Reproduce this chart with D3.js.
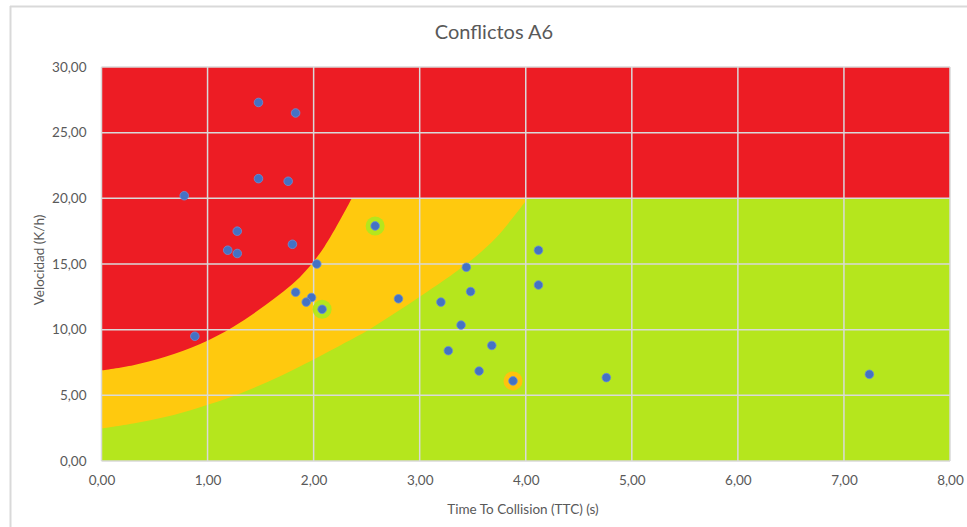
<!DOCTYPE html>
<html>
<head>
<meta charset="utf-8">
<script src="https://cdn.jsdelivr.net/npm/d3@7"></script>
<style>
  body { margin: 0; background: #fff; }
  text { font-family: Lato, "Open Sans", sans-serif; }
</style>
</head>
<body>
<div id="chart"></div>
<script>
// Conflictos A6 - TTC vs speed scatter with severity zones

// points (TTC in s, speed in K/h)
var ttc   = [1.48, 1.83, 1.48, 1.76, 0.78, 1.28, 1.19, 1.28, 1.80, 2.58, 2.03, 1.83, 1.98, 1.93, 2.08, 2.80, 0.88,
             4.12, 4.12, 3.44, 3.48, 3.20, 3.39, 3.68, 3.27, 3.56, 3.88, 4.76, 7.24];
var speed = [27.3, 26.5, 21.5, 21.3, 20.2, 17.5, 16.05, 15.8, 16.5, 17.9, 15.0, 12.85, 12.45, 12.1, 11.55, 12.35, 9.5,
             16.05, 13.4, 14.75, 12.9, 12.1, 10.35, 8.8, 8.4, 6.85, 6.1, 6.35, 6.6];

// highlighted points (index + halo colour)
var highlighted = [9, 14, 26];
var haloColors  = ["#b5e61d", "#b5e61d", "#ffc20e"];

// zone boundaries [ttc, speed], each ends where it meets 20 K/h
var upperCurve = [[0, 6.9], [0.3, 7.3], [0.61, 7.95], [0.93, 8.9], [1.24, 10.2], [1.55, 11.9],
                  [1.87, 14.0], [2.1, 16.3], [2.36, 20]];
var lowerCurve = [[0, 2.47], [0.3, 2.85], [0.6, 3.35], [0.93, 4.1], [1.24, 4.93], [1.56, 6.0],
                  [1.87, 7.2], [2.25, 8.8], [2.5, 9.9], [3.0, 12.5], [3.44, 15.0], [3.72, 17.0], [4.02, 20]];
var zoneTop = 20;

var xTicks = [0, 1, 2, 3, 4, 5, 6, 7, 8];
var yTicks = [0, 5, 10, 15, 20, 25, 30];

var W = 967, H = 527;
var margin = {top: 67, right: 17, bottom: 66, left: 101.5},
  width = W - margin.left - margin.right,
  height = H - margin.top - margin.bottom;

var svg = d3.select("#chart")
  .append("svg")
    .attr("width", W)
    .attr("height", H);

// chart area border (only left and top visible)
svg.append("line").attr("x1", 10.5).attr("x2", 10.5).attr("y1", 6).attr("y2", H)
  .style("stroke", "#d9d9d9").style("stroke-width", 2);
svg.append("line").attr("x1", 10).attr("x2", W).attr("y1", 6.5).attr("y2", 6.5)
  .style("stroke", "#d9d9d9").style("stroke-width", 2);

var g = svg.append("g")
  .attr("transform", "translate(" + margin.left + "," + margin.top + ")");

var x = d3.scaleLinear().domain([0, 8]).range([0, width]);
var y = d3.scaleLinear().domain([0, 30]).range([height, 0]);

g.append("clipPath").attr("id", "plotclip")
  .append("rect").attr("width", width).attr("height", height);

var zones = g.append("g").attr("clip-path", "url(#plotclip)");

// red zone = everything
zones.append("rect")
  .attr("width", width)
  .attr("height", height)
  .style("fill", "#ed1c24");

var boundary = d3.line()
  .x(function(d) { return x(d[0]); })
  .y(function(d) { return y(d[1]); })
  .curve(d3.curveCatmullRom);

// curve, then flat along 20 K/h to the right edge, then down and back along the bottom
function drawZone(curve, color) {
  var d = boundary(curve) +
    "L" + x(8) + "," + y(zoneTop) +
    "L" + x(8) + "," + y(0) +
    "L" + x(0) + "," + y(0) + "Z";
  zones.append("path")
    .attr("d", d)
    .style("fill", color);
}
drawZone(upperCurve, "#ffc90e");
drawZone(lowerCurve, "#b5e61d");

// gridlines
g.selectAll(".vgrid")
  .data(xTicks)
  .enter().append("line")
    .attr("x1", function(d) { return x(d); })
    .attr("x2", function(d) { return x(d); })
    .attr("y1", 0)
    .attr("y2", height)
    .style("stroke", "#d9d9d9")
    .style("stroke-width", 1.5);

g.selectAll(".hgrid")
  .data(yTicks)
  .enter().append("line")
    .attr("x1", 0)
    .attr("x2", width)
    .attr("y1", function(d) { return y(d); })
    .attr("y2", function(d) { return y(d); })
    .style("stroke", "#d9d9d9")
    .style("stroke-width", 1.5);

var fmt = function(d) { return d3.format(".2f")(d).replace(".", ","); };

// axes
var xAxis = g.append("g")
  .attr("transform", "translate(0," + height + ")")
  .call(d3.axisBottom(x).tickValues(xTicks).tickSize(0).tickPadding(14).tickFormat(fmt));
xAxis.select(".domain").remove();
xAxis.selectAll("text").style("font-size", "13.5px").style("fill", "#595959").style("font-family", "Lato, sans-serif");

var yAxis = g.append("g")
  .call(d3.axisLeft(y).tickValues(yTicks).tickSize(0).tickPadding(15).tickFormat(fmt));
yAxis.select(".domain").remove();
yAxis.selectAll("text").style("font-size", "13.5px").style("fill", "#595959").style("font-family", "Lato, sans-serif");

// halos
g.selectAll(".halo")
  .data(highlighted)
  .enter().append("circle")
    .attr("cx", function(d) { return x(ttc[d]); })
    .attr("cy", function(d) { return y(speed[d]); })
    .attr("r", 9.5)
    .style("fill", function(d, i) { return haloColors[i]; });

// points
g.selectAll(".dot")
  .data(ttc)
  .enter().append("circle")
    .attr("cx", function(d) { return x(d); })
    .attr("cy", function(d, i) { return y(speed[i]); })
    .attr("r", 4.3)
    .style("fill", "#4472c4")
    .style("stroke", "#6a8fd6")
    .style("stroke-width", 0.8);

// title
svg.append("text")
  .attr("x", 494)
  .attr("y", 39)
  .attr("text-anchor", "middle")
  .style("font-size", "20px")
  .style("fill", "#595959")
  .text("Conflictos A6");

// axis titles
svg.append("text")
  .attr("x", 523)
  .attr("y", 514)
  .attr("text-anchor", "middle")
  .style("font-size", "13.5px")
  .style("fill", "#595959")
  .text("Time To Collision (TTC) (s)");

svg.append("text")
  .attr("transform", "translate(44,260) rotate(-90)")
  .attr("text-anchor", "middle")
  .style("font-size", "13.5px")
  .style("fill", "#595959")
  .text("Velocidad (K/h)");
</script>
</body>
</html>
